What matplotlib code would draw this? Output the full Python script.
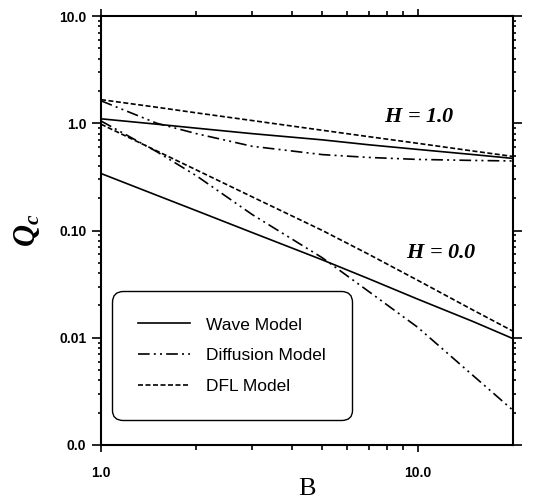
import matplotlib
matplotlib.use("Agg")
import matplotlib.pyplot as plt
from matplotlib.ticker import FixedLocator, NullFormatter

# ---- data ----
B = [1.0, 1.5, 2.0, 3.0, 5.0, 7.0, 10.0, 15.0, 20.0]

wave_h1 = [1.10, 0.98, 0.90, 0.80, 0.70, 0.63, 0.57, 0.51, 0.47]
diff_h1 = [1.62, 1.00, 0.80, 0.61, 0.51, 0.48, 0.46, 0.45, 0.445]
dfl_h1 = [1.66, 1.41, 1.25, 1.06, 0.86, 0.75, 0.65, 0.55, 0.49]

wave_h0 = [0.34, 0.213, 0.153, 0.0957, 0.0532, 0.0355, 0.0229, 0.0141, 0.0098]
diff_h0 = [1.05, 0.543, 0.324, 0.141, 0.0556, 0.027, 0.0125, 0.0044, 0.0021]
dfl_h0 = [0.98, 0.552, 0.367, 0.206, 0.100, 0.060, 0.0343, 0.018, 0.0115]

y_ticks = [0.001, 0.01, 0.1, 1.0, 10.0]
y_labels = ["0.0", "0.01", "0.10", "1.0", "10.0"]
x_ticks = [1.0, 10.0]
x_labels = ["1.0", "10.0"]
x_minor = [2, 3, 4, 5, 6, 7, 8, 9]

legend_labels = ["Wave Model", "Diffusion Model", "DFL Model"]

# ---- style ----
plt.rcParams["mathtext.fontset"] = "custom"
plt.rcParams["mathtext.it"] = "Liberation Serif:bold:italic"
plt.rcParams["mathtext.rm"] = "Liberation Serif:bold"

fig = plt.figure(figsize=(5.43, 5.0), dpi=100)
ax = fig.add_axes([0.186, 0.11, 0.759, 0.858])

solid = "-"
dashdot = (0, (7, 2.5, 1.2, 2.5, 1.2, 2.5))
dashed = (0, (3, 1.5))
lw = 1.2

l1, = ax.plot(B, wave_h1, color="black", lw=lw, linestyle=solid)
l2, = ax.plot(B, diff_h1, color="black", lw=lw, linestyle=dashdot)
l3, = ax.plot(B, dfl_h1, color="black", lw=lw, linestyle=dashed)
ax.plot(B, wave_h0, color="black", lw=lw, linestyle=solid)
ax.plot(B, diff_h0, color="black", lw=lw, linestyle=dashdot)
ax.plot(B, dfl_h0, color="black", lw=lw, linestyle=dashed)

ax.set_xscale("log")
ax.set_yscale("log")
ax.set_xlim(1.0, 20.0)
ax.set_ylim(0.001, 10.0)

ax.xaxis.set_major_locator(FixedLocator(x_ticks))
ax.set_xticklabels(x_labels)
ax.xaxis.set_minor_locator(FixedLocator(x_minor))
ax.xaxis.set_minor_formatter(NullFormatter())

ax.yaxis.set_major_locator(FixedLocator(y_ticks))
ax.set_yticklabels(y_labels)
ymin = []
for d in [0.001, 0.01, 0.1, 1.0]:
    for k in range(2, 10):
        ymin.append(d * k)
ax.yaxis.set_minor_locator(FixedLocator(ymin))
ax.yaxis.set_minor_formatter(NullFormatter())

for s in ax.spines.values():
    s.set_linewidth(1.5)

ax.tick_params(axis="x", which="both", direction="out", top=True, bottom=True,
               width=1.2)
ax.tick_params(axis="x", which="major", length=5, pad=10)
ax.tick_params(axis="x", which="minor", length=3.5)
ax.tick_params(axis="y", which="both", direction="out", left=True, right=True,
               width=1.2)
ax.tick_params(axis="y", which="major", length=6.5, pad=4)
ax.tick_params(axis="y", which="minor", length=2.5)

for lab in ax.get_xticklabels() + ax.get_yticklabels():
    lab.set_fontfamily("Liberation Sans")
    lab.set_fontweight("bold")
    lab.set_fontsize(10)

ax.set_xlabel("B", fontfamily="Liberation Serif", fontsize=19, labelpad=-1)
ax.set_ylabel(r"$Q_c$", fontsize=22, labelpad=12)

ax.text(10.1, 1.14, r"$H$ = 1.0", ha="center", va="center",
        fontfamily="Liberation Serif", fontstyle="italic", fontweight="bold",
        fontsize=16)
ax.text(11.9, 0.0616, r"$H$ = 0.0", ha="center", va="center",
        fontfamily="Liberation Serif", fontstyle="italic", fontweight="bold",
        fontsize=16)

leg = ax.legend([l1, l2, l3], legend_labels, loc="lower left",
                bbox_to_anchor=(0.027, 0.058), frameon=True, fancybox=True,
                prop={"family": "Liberation Sans", "size": 12.5},
                handlelength=3.0, handletextpad=0.9, labelspacing=0.9,
                borderpad=1.5, borderaxespad=0.0)
fr = leg.get_frame()
fr.set_edgecolor("black")
fr.set_linewidth(1.0)
fr.set_alpha(1.0)
fr.set_boxstyle("round,pad=0,rounding_size=0.6")

fig.savefig("out.png", dpi=100)
